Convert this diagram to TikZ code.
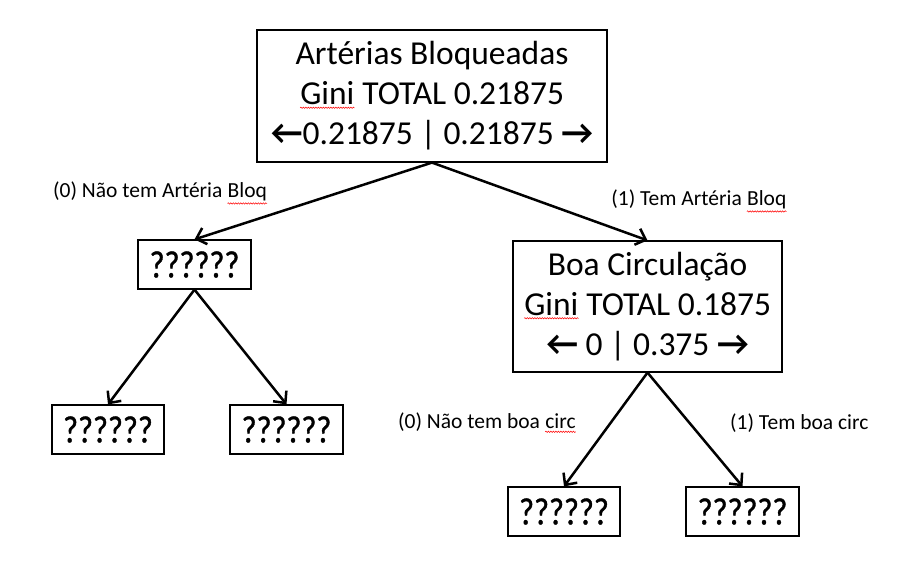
\documentclass[tikz,border=0pt]{standalone}
\usepackage{fontspec}
\setmainfont{Carlito}
\newfontfamily\qfont[FakeStretch=0.85,FakeBold=1]{Carlito}
\usetikzlibrary{arrows.meta,decorations.pathmorphing}
\newcommand{\spellmark}[1]{\tikz[baseline=(w.base)]{\node[draw=none, inner sep=0pt, minimum width=0pt, minimum height=0pt] (w) {#1};
  \draw[red, line width=0.5pt, decorate, decoration={snake,amplitude=0.7pt,segment length=2.5pt}]
  ([yshift=-2.5pt]w.south west) -- ([yshift=-2.5pt]w.south east);}}
\newcommand{\la}{{\bfseries\fontsize{35}{40}\selectfont ←}}
\newcommand{\ra}{{\bfseries\fontsize{35}{40}\selectfont →}}
\begin{document}
\begin{tikzpicture}[x=1pt,y=-1pt]
\tikzset{box/.style = {draw, line width=1.2pt, align=center, inner sep=0pt,
  font=\fontsize{33.5}{40}\selectfont}}
\tikzset{leaf/.style = {box, minimum width=113pt, minimum height=49pt,
  font=\qfont\fontsize{38}{40}\selectfont}}
\tikzset{edge/.style = {line width=2.5pt, -{Straight Barb[length=9pt,width=17pt]}}}
\tikzset{branch/.style = {inner sep=0pt, font=\fontsize{21.5}{24}\selectfont}}
\useasboundingbox (0,0) rectangle (904,561);
% split nodes
\node[box, minimum width=350pt, minimum height=132pt] (root) at (432,96)
  {Artérias Bloqueadas\\ \spellmark{Gini} TOTAL 0.21875\\ \la0.21875 | 0.21875 \ra};
\node[box, minimum width=269pt, minimum height=131pt] (boa) at (647.5,306.5)
  {Boa Circulação\\ \spellmark{Gini} TOTAL 0.1875\\ \la{} 0 | 0.375 \ra};
% unknown nodes
\node[leaf] (left) at (194.5,264.5) {??????};
\node[leaf, minimum width=112pt] (ll) at (108,429.5) {??????};
\node[leaf] (lr) at (286.5,429.5) {??????};
\node[leaf, minimum width=112pt] (rl) at (564,511.5) {??????};
\node[leaf] (rr) at (742.5,511.5) {??????};
% branch labels
\node[branch, anchor=west] (b0) at (53,193) {(0) Não tem Artéria \spellmark{Bloq}};
\node[branch, anchor=east] (b1) at (787,201) {(1) Tem Artéria \spellmark{Bloq}};
\node[branch, anchor=west] (c0) at (398,423) {(0) Não tem boa \spellmark{circ}};
\node[branch, anchor=west] (c1) at (730,423) {(1) Tem boa circ};
% edges
\draw[edge] (root.south) to (left.north);
\draw[edge] (root.south) to (boa.north);
\draw[edge] (left.south) to (ll.north);
\draw[edge] (left.south) to (lr.north);
\draw[edge] (boa.south) to (rl.north);
\draw[edge] (boa.south) to (rr.north);
\end{tikzpicture}
\end{document}
